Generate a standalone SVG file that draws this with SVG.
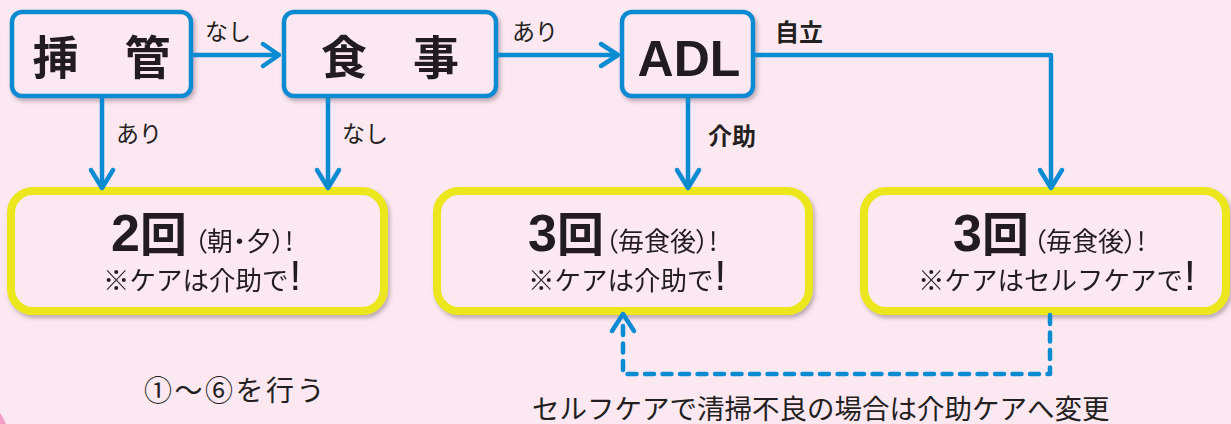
<svg xmlns="http://www.w3.org/2000/svg" width="1231" height="424" viewBox="0 0 1231 424">
<defs>
<filter id="sh" x="-10%" y="-10%" width="125%" height="130%">
<feDropShadow dx="2" dy="3" stdDeviation="2" flood-color="#6d5a62" flood-opacity="0.45"/>
</filter>
<style>
.bg{fill:#fce8f1}
.top{fill:#fce8f1;stroke:#0b8bd2;stroke-width:4.5}
.res{fill:#fce8f1;stroke:#ece71a;stroke-width:8}
.ln{fill:none;stroke:#0b8bd2;stroke-width:4.5;stroke-linejoin:round;stroke-linecap:round}
.dash{fill:none;stroke:#0b8bd2;stroke-width:4.5;stroke-dasharray:9 8.5;stroke-linecap:round;stroke-linejoin:round}
.jp{font-family:"Noto Sans CJK JP","Noto Sans CJK SC",sans-serif;fill:#231f20}
.lat{font-family:"Liberation Sans","Noto Sans CJK JP",sans-serif;fill:#231f20}
.big{font-size:46px;font-weight:700}
.lbl{font-size:23px}
.lblb{font-size:24px;font-weight:700}
.num{font-size:52px;font-weight:700}
.kai{font-size:47px;font-weight:700}
.par{font-size:26px;font-feature-settings:"palt"}
.l2{font-size:26.5px}
.ex{font-size:42px;font-weight:400}
</style>
</defs>
<rect class="bg" x="0" y="0" width="1231" height="424"/>
<circle cx="-40" cy="441" r="49" fill="#f29fc7"/>

<g id="node-sokan" filter="url(#sh)">
<rect class="top" x="12" y="12" width="179" height="84" rx="10"/>
<text class="jp big" x="101.5" y="74" text-anchor="middle">挿　管</text>
</g>
<g id="node-shokuji" filter="url(#sh)">
<rect class="top" x="284" y="12" width="212" height="84" rx="10"/>
<text class="jp big" x="390" y="74" text-anchor="middle">食　事</text>
</g>
<g id="node-adl" filter="url(#sh)">
<rect class="top" x="622" y="12" width="131" height="84" rx="10"/>
<text class="lat" x="689" y="76" text-anchor="middle" font-size="50" font-weight="700">ADL</text>
</g>

<g id="node-res1" filter="url(#sh)">
<rect class="res" x="11" y="191" width="373" height="120" rx="22"/>
<text y="251"><tspan class="lat num" x="111">2</tspan><tspan class="jp kai">回</tspan></text>
<text class="jp par" x="194" y="251">（朝・夕）!</text>
<text class="jp l2" x="103" y="290">※ケアは介助で<tspan class="lat ex" dx="1">!</tspan></text>
</g>
<g id="node-res2" filter="url(#sh)">
<rect class="res" x="437" y="191" width="372" height="120" rx="22"/>
<text y="251"><tspan class="lat num" x="528">3</tspan><tspan class="jp kai">回</tspan></text>
<text class="jp par" x="605" y="251">（毎食後）!</text>
<text class="jp l2" x="528" y="290">※ケアは介助で<tspan class="lat ex" dx="1">!</tspan></text>
</g>
<g id="node-res3" filter="url(#sh)">
<rect class="res" x="864" y="191" width="362" height="120" rx="22"/>
<text y="251"><tspan class="lat num" x="953">3</tspan><tspan class="jp kai">回</tspan></text>
<text class="jp par" x="1033" y="251">（毎食後）!</text>
<text class="jp l2" x="918" y="290">※ケアはセルフケアで<tspan class="lat ex" dx="1">!</tspan></text>
</g>

<g id="connectors">
<path class="ln" d="M193,55 H278"/>
<path class="ln" d="M263,44 L279,55 L263,66"/>
<path class="ln" d="M498,55 H617"/>
<path class="ln" d="M601,44 L618,55 L601,66"/>
<path class="ln" d="M755,55 H1051 V187"/>
<path class="ln" d="M1040,170 L1051,188 L1062,170"/>
<path class="ln" d="M102,98 V187"/>
<path class="ln" d="M91,170 L102,188 L113,170"/>
<path class="ln" d="M328,98 V187"/>
<path class="ln" d="M317,170 L328,188 L339,170"/>
<path class="ln" d="M688,98 V187"/>
<path class="ln" d="M677,170 L688,188 L699,170"/>
<path class="dash" d="M1050,315 V374 H623 V318"/>
<path class="ln" d="M612,331 L623,314 L634,331"/>
</g>

<g id="labels">
<text class="jp lbl" x="205" y="40">なし</text>
<text class="jp lbl" x="512" y="40">あり</text>
<text class="jp lblb" x="775" y="41">自立</text>
<text class="jp lbl" x="116" y="142">あり</text>
<text class="jp lbl" x="342" y="142">なし</text>
<text class="jp lblb" x="708" y="145">介助</text>
</g>

<text class="jp" x="144" y="401" font-size="28" letter-spacing="2.5">①〜⑥を行う</text>
<text class="jp" x="532" y="419" font-size="27.5">セルフケアで清掃不良の場合は介助ケアへ変更</text>
</svg>
